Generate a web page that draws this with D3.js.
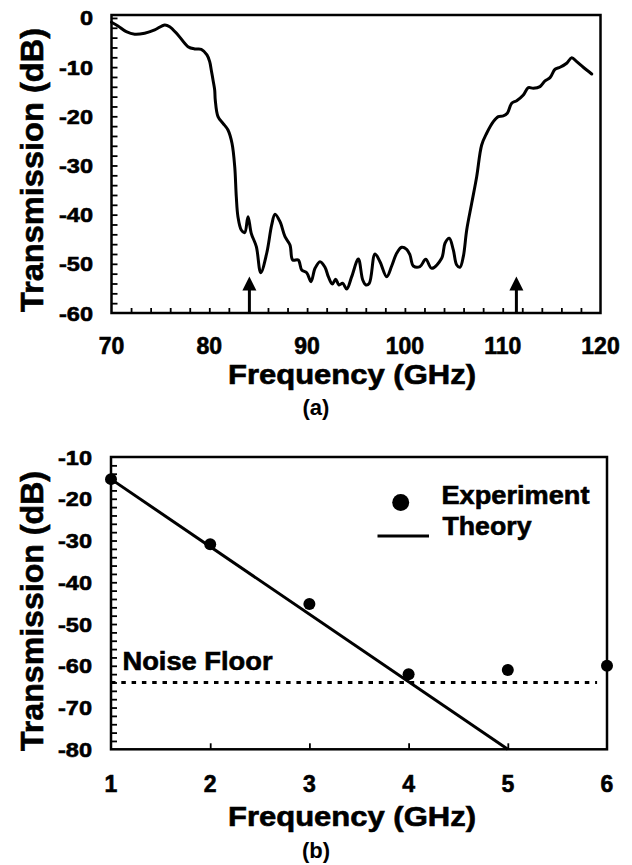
<!DOCTYPE html>
<html>
<head>
<meta charset="utf-8">
<script src="https://cdn.jsdelivr.net/npm/d3@7/dist/d3.min.js"></script>
<style>
  html, body { margin: 0; padding: 0; background: #fff; }
  svg { display: block; }
  text { font-family: "Liberation Sans", Arial, Helvetica, sans-serif; font-weight: bold; fill: #000; }
  text.heavy { stroke: #000; stroke-width: 0.6px; }
</style>
</head>
<body>
<script>
// ---------- Panel (a) data ----------
const freqA = [70.0,70.66,71.51,72.37,73.39,74.42,75.44,75.95,76.80,77.82,78.51,79.18,79.76,80.04,80.20,80.38,80.55,80.61,80.89,81.40,81.91,82.32,82.60,82.76,82.93,83.27,83.62,83.96,84.29,84.81,85.26,85.87,86.38,86.72,87.23,87.74,88.25,88.53,89.10,89.45,89.96,90.40,90.81,91.32,91.83,92.17,92.58,92.92,93.26,93.64,94.05,94.56,95.24,95.69,96.02,96.36,96.94,97.45,98.14,98.65,99.16,99.67,100.18,100.52,100.86,101.54,102.13,102.74,103.76,104.10,104.54,104.95,105.30,105.63,105.97,106.32,106.83,107.34,107.85,108.36,109.04,109.55,110.06,110.47,110.92,111.43,112.11,112.62,113.13,113.81,114.33,114.84,115.35,115.86,116.54,117.06,117.57,118.24,119.10];
const transA = [-0.87,-1.63,-2.79,-3.32,-3.11,-2.44,-1.42,-1.77,-3.46,-5.84,-6.30,-6.37,-7.52,-8.89,-10.58,-12.61,-14.64,-16.68,-20.07,-21.42,-22.78,-25.48,-30.24,-36.34,-40.41,-43.11,-43.66,-40.41,-43.79,-46.51,-51.80,-47.85,-42.10,-39.92,-41.43,-44.48,-46.17,-49.22,-49.22,-51.25,-51.80,-53.63,-50.91,-49.56,-50.70,-52.61,-54.10,-53.14,-54.30,-53.96,-55.12,-52.61,-49.01,-53.28,-54.30,-53.96,-47.99,-49.56,-52.61,-50.44,-47.85,-46.63,-47.04,-48.20,-50.44,-50.58,-49.07,-50.91,-48.87,-45.82,-44.80,-47.18,-50.23,-50.70,-48.55,-43.12,-37.69,-32.28,-25.83,-23.45,-21.09,-20.07,-19.93,-19.38,-17.35,-16.82,-15.66,-14.18,-14.30,-13.97,-12.81,-12.14,-10.43,-10.03,-9.21,-8.07,-8.89,-10.03,-11.39];
const xTickLabelsA = [70, 80, 90, 100, 110, 120];
const yTickLabelsA = [0, -10, -20, -30, -40, -50, -60];
const arrowFreqsA = [84.1, 111.4];
const arrowTipA = -52.6;

// ---------- Panel (b) data ----------
const freqB = [1, 2, 3, 4, 5, 6];
const expB = [-15.3, -30.9, -45.2, -62.0, -61.0, -60.0];
const theoryFreqB = [1, 5];
const theoryB = [-15.3, -80];
const noiseFloorB = -64;
const xTickLabelsB = [1, 2, 3, 4, 5, 6];
const yTickLabelsB = [-10, -20, -30, -40, -50, -60, -70, -80];

const W = 632, H = 865;
const svg = d3.select("body").append("svg").attr("width", W).attr("height", H);
svg.append("rect").attr("width", W).attr("height", H).attr("fill", "#fff");

function widen(sel, k) {
  sel.each(function () {
    const len = this.getComputedTextLength();
    d3.select(this).attr("textLength", len * k).attr("lengthAdjust", "spacingAndGlyphs");
  });
}

// ================= Panel (a) =================
const xA = d3.scaleLinear().domain([70, 120]).range([111.5, 600.5]);
const yA = d3.scaleLinear().domain([-60, 0.6]).range([313, 15]);
const gA = svg.append("g");

gA.append("g").attr("transform", `translate(0,${yA(-60)})`)
  .call(d3.axisBottom(xA).tickValues(d3.range(72, 119, 2)).tickSize(-5).tickFormat(""))
  .call(g => g.select(".domain").remove())
  .call(g => g.selectAll("line").attr("stroke", "#000").attr("stroke-width", 1.8));
gA.append("g").attr("transform", `translate(${xA(70)},0)`)
  .call(d3.axisLeft(yA).tickValues(d3.range(-58, 0.5, 2)).tickSize(-6).tickFormat(""))
  .call(g => g.select(".domain").remove())
  .call(g => g.selectAll("line").attr("stroke", "#000").attr("stroke-width", 1.8));

gA.append("rect")
  .attr("x", xA(70)).attr("y", yA(0.6))
  .attr("width", xA(120) - xA(70)).attr("height", yA(-60) - yA(0.6))
  .attr("fill", "none").attr("stroke", "#000").attr("stroke-width", 2.5);

const lineA = d3.line().x(d => xA(d[0])).y(d => yA(d[1])).curve(d3.curveCatmullRom.alpha(0.5));
gA.append("path")
  .datum(freqA.map((f, i) => [f, transA[i]]))
  .attr("d", lineA)
  .attr("fill", "none").attr("stroke", "#000").attr("stroke-width", 3)
  .attr("stroke-linejoin", "round").attr("stroke-linecap", "round");

arrowFreqsA.forEach(f => {
  const x = xA(f), yTip = yA(arrowTipA), yBase = yA(-60);
  gA.append("line").attr("x1", x).attr("x2", x).attr("y1", yTip + 10).attr("y2", yBase)
    .attr("stroke", "#000").attr("stroke-width", 3);
  gA.append("path")
    .attr("d", `M${x},${yTip} L${x - 7},${yTip + 14} L${x + 7},${yTip + 14} Z`)
    .attr("fill", "#000");
});

gA.selectAll(".xl").data(xTickLabelsA).enter().append("text")
  .attr("class", "heavy")
  .attr("x", d => xA(d)).attr("y", 354)
  .attr("text-anchor", "middle").attr("font-size", 23).text(d => d);
gA.selectAll(".yl").data(yTickLabelsA).enter().append("text")
  .attr("class", "heavy yl")
  .attr("x", 93).attr("y", d => yA(d))
  .attr("text-anchor", "end").attr("dominant-baseline", "central")
  .attr("font-size", 21).text(d => d)
  .call(widen, 1.12);

gA.append("text").attr("class", "heavy").attr("x", 352).attr("y", 384).attr("text-anchor", "middle")
  .attr("font-size", 27).attr("textLength", 248).attr("lengthAdjust", "spacingAndGlyphs")
  .text("Frequency (GHz)");
gA.append("text").attr("class", "heavy").attr("transform", "translate(43,170) rotate(-90)")
  .attr("text-anchor", "middle").attr("font-size", 32)
  .attr("textLength", 284).attr("lengthAdjust", "spacingAndGlyphs")
  .text("Transmission (dB)");
gA.append("text").attr("x", 316).attr("y", 415).attr("text-anchor", "middle")
  .attr("font-size", 22).text("(a)");

// ================= Panel (b) =================
const xB = d3.scaleLinear().domain([1, 6]).range([111, 607]);
const yB = d3.scaleLinear().domain([-80, -10]).range([749.3, 457]);
const gB = svg.append("g");

gB.append("g").attr("transform", `translate(0,${yB(-80)})`)
  .call(d3.axisBottom(xB).tickValues([2, 3, 4, 5]).tickSize(-6).tickFormat(""))
  .call(g => g.select(".domain").remove())
  .call(g => g.selectAll("line").attr("stroke", "#000").attr("stroke-width", 1.8));
gB.append("g").attr("transform", `translate(${xB(1)},0)`)
  .call(d3.axisLeft(yB).tickValues(d3.range(-78, -11, 2)).tickSize(-6).tickFormat(""))
  .call(g => g.select(".domain").remove())
  .call(g => g.selectAll("line").attr("stroke", "#000").attr("stroke-width", 1.8));

gB.append("rect")
  .attr("x", xB(1)).attr("y", yB(-10))
  .attr("width", xB(6) - xB(1)).attr("height", yB(-80) - yB(-10))
  .attr("fill", "none").attr("stroke", "#000").attr("stroke-width", 2.5);

gB.append("line")
  .attr("x1", xB(1)).attr("x2", xB(5.9)).attr("y1", yB(noiseFloorB)).attr("y2", yB(noiseFloorB))
  .attr("stroke", "#000").attr("stroke-width", 3.2).attr("stroke-dasharray", "4.5,5.8");
gB.append("text").attr("class", "heavy").attr("x", 122.5).attr("y", 670).attr("font-size", 25)
  .attr("textLength", 150).attr("lengthAdjust", "spacingAndGlyphs").text("Noise Floor");

const lineB = d3.line().x(d => xB(d[0])).y(d => yB(d[1]));
gB.append("path")
  .datum(theoryFreqB.map((f, i) => [f, theoryB[i]]))
  .attr("d", lineB).attr("fill", "none").attr("stroke", "#000").attr("stroke-width", 3);

gB.selectAll(".pt").data(freqB.map((f, i) => [f, expB[i]])).enter().append("circle")
  .attr("cx", d => xB(d[0])).attr("cy", d => yB(d[1])).attr("r", 6).attr("fill", "#000");

gB.append("circle").attr("cx", 400.7).attr("cy", 502.5).attr("r", 8.5).attr("fill", "#000");
gB.append("text").attr("class", "heavy").attr("x", 441.5).attr("y", 503.5).attr("font-size", 25)
  .attr("textLength", 148).attr("lengthAdjust", "spacingAndGlyphs").text("Experiment");
gB.append("line").attr("x1", 377.5).attr("x2", 429).attr("y1", 536).attr("y2", 536)
  .attr("stroke", "#000").attr("stroke-width", 3);
gB.append("text").attr("class", "heavy").attr("x", 442.5).attr("y", 535).attr("font-size", 25)
  .attr("textLength", 89).attr("lengthAdjust", "spacingAndGlyphs").text("Theory");

gB.selectAll(".xl").data(xTickLabelsB).enter().append("text")
  .attr("class", "heavy")
  .attr("x", d => xB(d)).attr("y", 792)
  .attr("text-anchor", "middle").attr("font-size", 23).text(d => d);
gB.selectAll(".yl").data(yTickLabelsB).enter().append("text")
  .attr("class", "heavy yl")
  .attr("x", 92).attr("y", d => yB(d))
  .attr("text-anchor", "end").attr("dominant-baseline", "central")
  .attr("font-size", 21).text(d => d)
  .call(widen, 1.12);

gB.append("text").attr("class", "heavy").attr("x", 352).attr("y", 826).attr("text-anchor", "middle")
  .attr("font-size", 27).attr("textLength", 248).attr("lengthAdjust", "spacingAndGlyphs")
  .text("Frequency (GHz)");
gB.append("text").attr("class", "heavy").attr("transform", "translate(43,611) rotate(-90)")
  .attr("text-anchor", "middle").attr("font-size", 32)
  .attr("textLength", 280).attr("lengthAdjust", "spacingAndGlyphs")
  .text("Transmission (dB)");
gB.append("text").attr("x", 316).attr("y", 858).attr("text-anchor", "middle")
  .attr("font-size", 22).text("(b)");
</script>
</body>
</html>
